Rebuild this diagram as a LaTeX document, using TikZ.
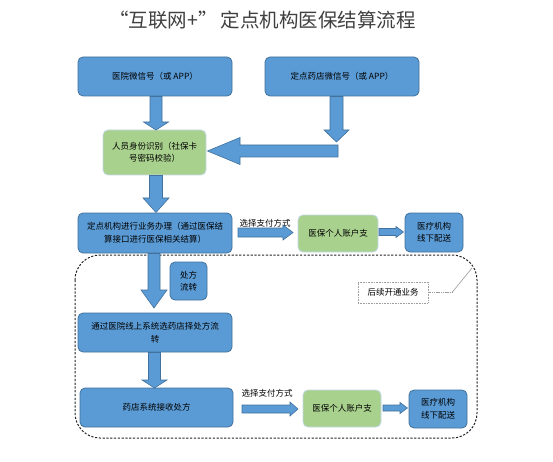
\documentclass[tikz,border=0pt]{standalone}
\usepackage{fontspec}
\newfontfamily\cjk{Noto Sans CJK SC}
\definecolor{bfill}{HTML}{5B9BD5}
\definecolor{bdraw}{HTML}{41719C}
\definecolor{gfill}{HTML}{A9D18E}
\definecolor{gdraw}{HTML}{C3D9E8}
\definecolor{ttl}{HTML}{404040}
\newcommand\dnarrow[6]{%
  \filldraw[blockarrow] (#1-#5,#2) -- (#1+#5,#2) -- (#1+#5,#3) -- (#1+#6,#3) -- (#1,#4) -- (#1-#6,#3) -- (#1-#5,#3) -- cycle;}
\newcommand\hzarrow[6]{%
  \filldraw[blockarrow] (#2,#1-#5) -- (#2,#1+#5) -- (#3,#1+#5) -- (#3,#1+#6) -- (#4,#1) -- (#3,#1-#6) -- (#3,#1-#5) -- cycle;}
\begin{document}
\begin{tikzpicture}[x=1pt,y=-1pt,
  txt/.style={font=\cjk\fontsize{8.5}{12.5}\selectfont, text=black, align=center, inner sep=1pt},
  bluebox/.style={txt, draw=bdraw, fill=bfill, line width=0.8pt, rounded corners=5pt},
  greenbox/.style={txt, draw=gdraw, fill=gfill, line width=0.8pt, rounded corners=5pt},
  blockarrow/.style={fill=bfill, draw=bdraw, line width=0.6pt, line join=miter},
  notebox/.style={txt, draw=gray!75, fill=white, dash pattern=on 1pt off 0.6pt, line width=0.6pt},
  region/.style={draw=black!85, dash pattern=on 2.2pt off 1.6pt, line width=1pt, rounded corners=25pt}]
\useasboundingbox (0,0) rectangle (553,462);
\fill[white] (0,0) rectangle (553,462);

\node[font=\cjk\fontsize{19.5}{22}\selectfont, text=ttl, inner sep=0pt] (title) at (262.5,20) {“互联网+”\hspace{3pt}定点机构医保结算流程};

\draw[region] (75,255) rectangle (477,438);

\node[bluebox, minimum width=154pt, minimum height=39pt] (A) at (155,76.5) {医院微信号（或 APP）};
\node[bluebox, minimum width=154pt, minimum height=39pt] (B) at (342,76.5) {定点药店微信号（或 APP）};
\node[greenbox, minimum width=103pt, minimum height=45pt] (C) at (154.5,152.5) {人员身份识别（社保卡\\号密码校验）};
\node[bluebox, minimum width=154pt, minimum height=40pt] (D) at (155,233) {定点机构进行业务办理（通过医保结\\算接口进行医保相关结算）};
\node[greenbox, minimum width=80pt, minimum height=37pt] (E) at (338,233.5) {医保个人账户支};
\node[bluebox, minimum width=58pt, minimum height=39pt] (F) at (434,232.5) {医疗机构\\线下配送};
\node[bluebox, minimum width=37pt, minimum height=38pt] (P) at (188.5,281) {处方\\流转};
\node[bluebox, minimum width=154pt, minimum height=39pt] (G) at (155,332.5) {通过医院线上系统选药店择处方流\\转};
\node[bluebox, minimum width=153pt, minimum height=39pt] (H) at (156.5,407.5) {药店系统接收处方};
\node[greenbox, minimum width=78pt, minimum height=37pt] (I) at (342,408.5) {医保个人账户支};
\node[bluebox, minimum width=58pt, minimum height=38pt] (J) at (438,409) {医疗机构\\线下配送};
\node[notebox, minimum width=70pt, minimum height=21pt] (K) at (393,292.5) {后续开通业务};

\coordinate (K1) at (452,292.5);
\coordinate (K2) at (472,268);
\draw[gray!80, line width=0.6pt, dash pattern=on 1.2pt off 0.6pt] (K.east) -- (K1);
\draw[gray!80, line width=0.6pt] (K1) -- (K2);

\node[txt] (L1) at (265,223.5) {选择支付方式};
\node[txt] (L2) at (267,393.5) {选择支付方式};

% block arrows
\dnarrow{156}{96.5}{122}{130}{6}{12.5}
\dnarrow{336.5}{96.5}{130}{142}{6.5}{12.5}
\hzarrow{151}{338}{240}{207.5}{6}{13.5}
\dnarrow{156}{175.5}{198}{212.5}{6.5}{13}
\dnarrow{154}{253.5}{290}{308}{6}{13}
\dnarrow{154.5}{352.5}{380}{388}{6}{12.5}
\hzarrow{232.5}{238}{283}{293}{4.5}{7.5}
\hzarrow{232}{379}{396}{403.5}{3.5}{5.5}
\hzarrow{409}{242}{290}{298}{4}{7}
\hzarrow{408}{383}{400}{407.5}{3}{5.5}
\end{tikzpicture}
\end{document}
